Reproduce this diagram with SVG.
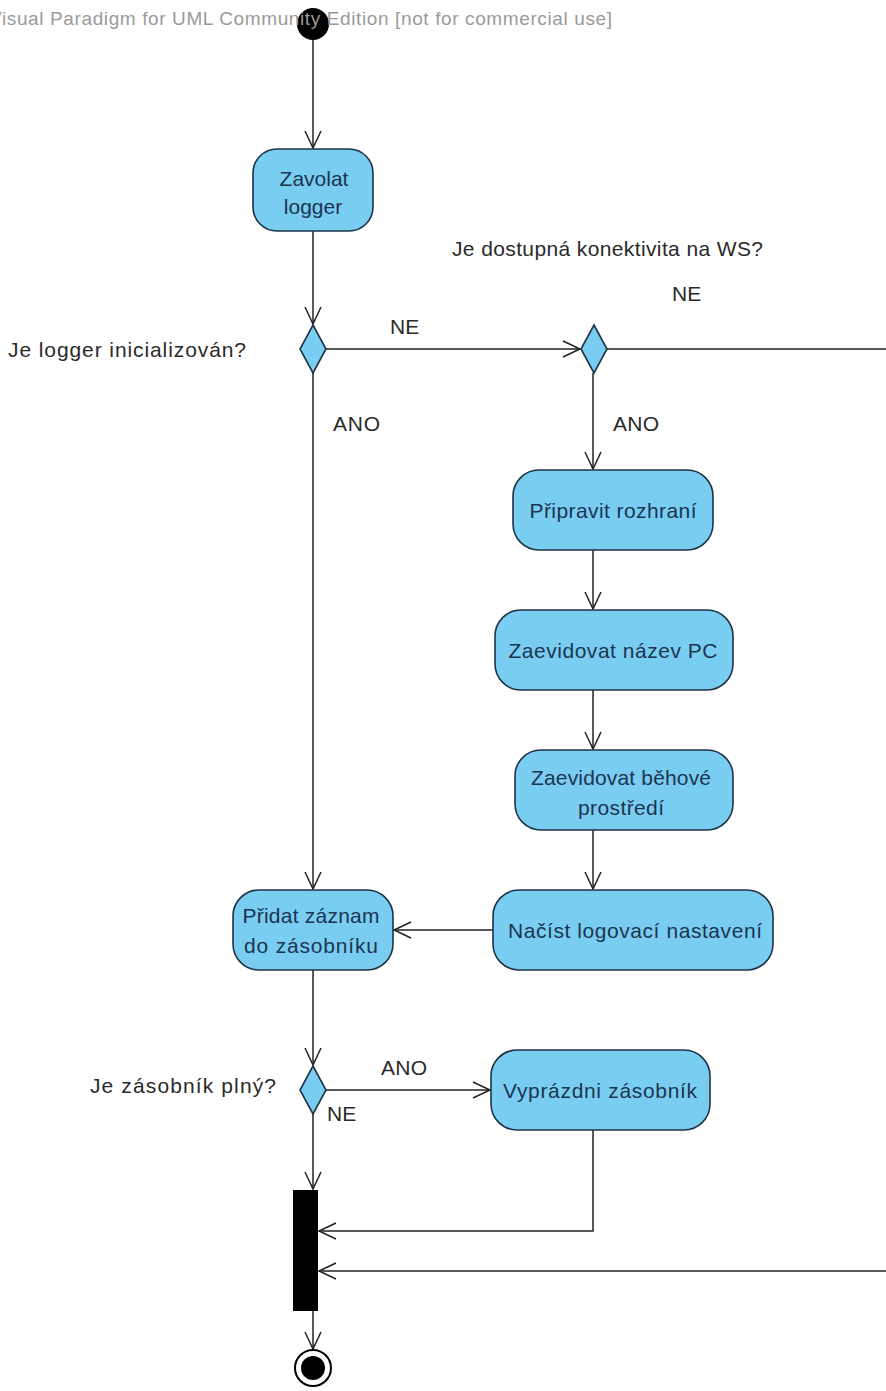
<svg xmlns="http://www.w3.org/2000/svg" width="886" height="1391" viewBox="0 0 886 1391">
  <style>
    .act { fill: #79CDF0; stroke: #1E3346; stroke-width: 1.6; }
    .dec { fill: #79CDF0; stroke: #1E3346; stroke-width: 1.6; }
    .lbl { font-family: "Liberation Sans", Arial, sans-serif; font-size: 21px; fill: #2a2a2a; }
    .atxt { font-family: "Liberation Sans", Arial, sans-serif; font-size: 21px; fill: #1B3550; text-anchor: middle; }
    .wm { font-family: "Liberation Sans", Arial, sans-serif; font-size: 19px; fill: #9a9a9a; }
    .flow { fill: none; stroke: #222; stroke-width: 1.5; }
  </style>
  <defs>
    <marker id="open" markerUnits="userSpaceOnUse" markerWidth="24" markerHeight="24" viewBox="-20 -12 24 24" refX="0" refY="0" orient="auto">
      <path d="M-17,-8 L0,0 L-17,8" fill="none" stroke="#222" stroke-width="1.5"/>
    </marker>
  </defs>
  <rect width="886" height="1391" fill="#ffffff"/>

  <!-- control flows -->
  <g id="connectors">
    <path class="flow" d="M313,40 V148" marker-end="url(#open)"/>
    <path class="flow" d="M313,231 V324" marker-end="url(#open)"/>
    <path class="flow" d="M326,349 H580" marker-end="url(#open)"/>
    <path class="flow" d="M607,349 H886"/>
    <path class="flow" d="M593,373 V469" marker-end="url(#open)"/>
    <path class="flow" d="M593,550 V609" marker-end="url(#open)"/>
    <path class="flow" d="M593,690 V749" marker-end="url(#open)"/>
    <path class="flow" d="M593,830 V889" marker-end="url(#open)"/>
    <path class="flow" d="M313,373 V889" marker-end="url(#open)"/>
    <path class="flow" d="M493,930 H394" marker-end="url(#open)"/>
    <path class="flow" d="M313,970 V1065" marker-end="url(#open)"/>
    <path class="flow" d="M326,1090 H490" marker-end="url(#open)"/>
    <path class="flow" d="M313,1114 V1189" marker-end="url(#open)"/>
    <path class="flow" d="M593,1130 V1231 H319" marker-end="url(#open)"/>
    <path class="flow" d="M886,1271 H319" marker-end="url(#open)"/>
    <path class="flow" d="M313,1311 V1349" marker-end="url(#open)"/>
  </g>

  <!-- initial node -->
  <g id="start">
    <circle cx="313" cy="24" r="16" fill="#000"/>
  </g>

  <g id="zavolat-logger">
    <rect class="act" x="253" y="149" width="120" height="82" rx="24"/>
    <text class="atxt" x="314" y="186">Zavolat</text>
    <text class="atxt" x="313" y="214">logger</text>
  </g>

  <g id="dec-logger">
    <path class="dec" d="M313,325 L326,349 L313,373 L300,349 Z"/>
    <text class="lbl" x="8" y="357" textLength="238" lengthAdjust="spacing">Je logger inicializován?</text>
  </g>

  <g id="dec-ws">
    <path class="dec" d="M594,325 L607,349 L594,373 L581,349 Z"/>
    <text class="lbl" x="452" y="256" textLength="311" lengthAdjust="spacing">Je dostupná konektivita na WS?</text>
  </g>

  <g id="edge-labels">
    <text class="lbl" x="390" y="334">NE</text>
    <text class="lbl" x="672" y="301">NE</text>
    <text class="lbl" x="333" y="431" textLength="47" lengthAdjust="spacing">ANO</text>
    <text class="lbl" x="613" y="431" textLength="46" lengthAdjust="spacing">ANO</text>
    <text class="lbl" x="381" y="1075" textLength="46" lengthAdjust="spacing">ANO</text>
    <text class="lbl" x="327" y="1121">NE</text>
  </g>

  <g id="pripravit-rozhrani">
    <rect class="act" x="513" y="470" width="200" height="80" rx="26"/>
    <text class="atxt" x="613" y="518" textLength="167" lengthAdjust="spacing">Připravit rozhraní</text>
  </g>

  <g id="zaevidovat-nazev">
    <rect class="act" x="495" y="610" width="238" height="80" rx="26"/>
    <text class="atxt" x="613" y="658" textLength="209" lengthAdjust="spacing">Zaevidovat název PC</text>
  </g>

  <g id="zaevidovat-prostredi">
    <rect class="act" x="515" y="750" width="218" height="80" rx="26"/>
    <text class="atxt" x="621" y="785" textLength="180" lengthAdjust="spacing">Zaevidovat běhové</text>
    <text class="atxt" x="621" y="815" textLength="86" lengthAdjust="spacing">prostředí</text>
  </g>

  <g id="nacist-nastaveni">
    <rect class="act" x="493" y="890" width="280" height="80" rx="26"/>
    <text class="atxt" x="635" y="938" textLength="254" lengthAdjust="spacing">Načíst logovací nastavení</text>
  </g>

  <g id="pridat-zaznam">
    <rect class="act" x="233" y="890" width="160" height="80" rx="26"/>
    <text class="atxt" x="311" y="923" textLength="137" lengthAdjust="spacing">Přidat záznam</text>
    <text class="atxt" x="311" y="953" textLength="134" lengthAdjust="spacing">do zásobníku</text>
  </g>

  <g id="dec-zasobnik">
    <path class="dec" d="M313,1066 L326,1090 L313,1114 L300,1090 Z"/>
    <text class="lbl" x="90" y="1093" textLength="186" lengthAdjust="spacing">Je zásobník plný?</text>
  </g>

  <g id="vyprazdni">
    <rect class="act" x="491" y="1050" width="219" height="80" rx="26"/>
    <text class="atxt" x="600" y="1098" textLength="194" lengthAdjust="spacing">Vyprázdni zásobník</text>
  </g>

  <g id="join-bar">
    <rect x="293" y="1190" width="25" height="121" fill="#000"/>
  </g>

  <g id="final">
    <circle cx="313" cy="1368" r="18" fill="#fff" stroke="#000" stroke-width="2"/>
    <circle cx="313" cy="1368" r="12" fill="#000"/>
  </g>

  <!-- tool watermark, painted over the start node -->
  <text class="wm" x="-11" y="25" textLength="623" lengthAdjust="spacing">Visual Paradigm for UML Community Edition [not for commercial use]</text>
</svg>
